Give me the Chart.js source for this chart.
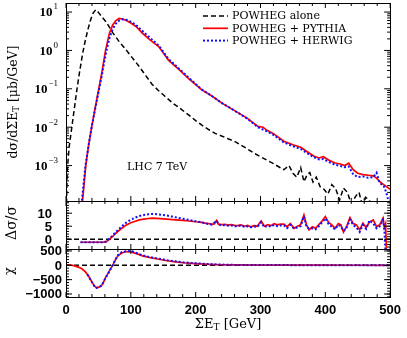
<!DOCTYPE html>
<html>
<head>
<meta charset="utf-8">
<script src="https://cdn.jsdelivr.net/npm/chart.js@4.4.1/dist/chart.umd.min.js"></script>
<style>
  html, body { margin: 0; padding: 0; background: #fff; }
  #wrap { width: 407px; height: 338px; }
</style>
</head>
<body>
<div id="wrap"><canvas id="chart" width="407" height="338"></canvas></div>
<script>
/* === DATA === */
// top panel: dσ/dΣE_T [μb/GeV]
const aloneX = [0.5, 2, 5, 9, 13, 17, 21, 26, 30, 34, 38, 42, 46, 50, 55, 62, 72, 82, 92, 102, 113, 123, 133, 143, 153, 165, 177, 189, 200, 210, 220, 230, 240, 250, 260, 270, 280, 290, 300, 310, 320, 330, 336, 344, 350, 356, 362, 367, 372, 376, 381, 386, 392, 398, 404, 410, 416, 422, 428, 434, 440, 447, 452, 458, 462, 468, 474];
const aloneY = [6.3e-5, 7.9e-4, 3.2e-3, 1.0e-2, 3.2e-2, 0.10, 0.28, 0.89, 1.9, 3.6, 6.3, 9.5, 11.5, 9.8, 7.6, 5.5, 2.9, 1.7, 1.07, 0.65, 0.38, 0.22, 0.13, 0.089, 0.063, 0.042, 0.030, 0.021, 0.0148, 0.0112, 0.0087, 0.0069, 0.0059, 0.0050, 0.0043, 0.0034, 0.0027, 0.0021, 0.0017, 0.00138, 0.00112, 8.9e-4, 7.8e-4, 1.0e-3, 6.3e-4, 5.0e-4, 8.9e-4, 3.8e-4, 5.8e-4, 6.6e-4, 3.7e-4, 5.0e-4, 2.8e-4, 2.4e-4, 1.8e-4, 3.2e-4, 2.5e-4, 1.26e-4, 2.6e-4, 2.0e-4, 1.0e-4, 1.6e-4, 2.0e-4, 7.9e-5, 1.5e-4, 1.26e-4, 6.3e-5];

const pythiaX = [24, 25.5, 30.5, 35, 40, 45, 50, 55, 61, 67, 72, 77, 82, 87, 93, 100, 108, 118, 130, 143, 158, 174, 190, 209, 225, 240, 260, 280, 296, 304, 310, 320, 336, 350, 362, 372, 382, 390, 397, 405, 415, 423, 430, 436, 443, 450, 458, 466, 474, 479, 484, 490, 496, 500];
const pythiaY = [6e-5, 1.2e-4, 1.0e-3, 3.5e-3, 1.1e-2, 3.2e-2, 8.9e-2, 0.25, 1.0, 2.8, 4.6, 6.0, 6.8, 6.6, 6.0, 5.2, 4.2, 2.8, 1.86, 1.26, 0.56, 0.32, 0.18, 0.095, 0.065, 0.043, 0.027, 0.017, 0.0105, 0.0100, 0.0083, 0.0068, 0.0043, 0.0035, 0.0030, 0.0023, 0.00178, 0.00158, 0.0017, 0.0014, 0.00117, 0.0011, 0.0010, 0.00115, 7.8e-4, 6.3e-4, 5.8e-4, 5.6e-4, 5.4e-4, 4.7e-4, 3.8e-4, 3.2e-4, 2.7e-4, 2.4e-4];

const herwigX = [23, 24.5, 30, 35, 40, 45, 50, 55, 61, 67, 72, 77, 82, 87, 93, 100, 108, 118, 130, 143, 158, 174, 190, 209, 225, 240, 260, 280, 296, 310, 320, 336, 350, 362, 372, 382, 390, 397, 405, 415, 423, 430, 436, 443, 450, 458, 466, 474, 479, 484, 490, 494, 498, 500];
const herwigY = [6e-5, 1.2e-4, 1.0e-3, 3.5e-3, 1.1e-2, 3.0e-2, 8.0e-2, 0.21, 0.76, 2.1, 3.6, 5.0, 6.0, 6.5, 6.3, 5.6, 4.6, 3.2, 2.1, 1.35, 0.60, 0.34, 0.19, 0.097, 0.065, 0.043, 0.027, 0.0165, 0.0100, 0.0078, 0.0063, 0.0040, 0.0032, 0.0027, 0.0021, 0.00165, 0.00145, 0.00148, 0.00125, 0.00105, 9.8e-4, 9.0e-4, 9.5e-4, 6.0e-4, 5.0e-4, 5.2e-4, 4.8e-4, 5.0e-4, 6.5e-4, 3.5e-4, 3.0e-4, 2.0e-4, 1.1e-4, 8e-5];

// middle panel: Δσ/σ
const ratioPythiaX = [22.4, 30, 40, 50, 58, 62, 67, 72, 77, 82, 87, 92.5, 100, 107, 113, 120, 127, 133, 140, 150, 160, 169, 180, 190, 200, 209, 215, 220, 225, 229, 232, 235, 240, 245, 250, 255, 260, 265, 270, 275, 280, 285, 290, 295, 301, 306, 311, 316, 321, 326, 331, 336, 341, 346, 352, 357, 362, 367, 371, 375, 380, 385, 390, 395, 400, 405, 410, 415, 420, 424, 428, 433, 438, 443, 448, 453, 458, 463, 468, 474, 479, 484, 489, 491, 493, 494.5];
const ratioPythiaY = [-1.15, -1.15, -1.15, -1.15, -1.1, -0.9, 0.0, 1.1, 2.3, 3.4, 4.4, 5.4, 6.3, 6.9, 7.4, 7.7, 7.95, 8.1, 8.0, 7.8, 7.6, 7.4, 7.2, 7.0, 6.7, 6.5, 6.2, 6.0, 5.8, 5.9, 7.2, 5.8, 5.6, 5.7, 5.4, 5.6, 5.3, 5.2, 5.5, 5.0, 5.3, 4.8, 5.2, 5.0, 7.0, 5.0, 5.6, 5.2, 6.0, 5.5, 5.8, 5.8, 4.8, 6.0, 4.2, 5.0, 5.6, 9.3, 5.5, 3.6, 4.8, 4.2, 5.6, 7.0, 8.7, 6.5, 5.5, 4.2, 6.0, 5.5, 2.7, 5.0, 8.3, 6.0, 5.5, 3.6, 6.2, 4.5, 6.6, 7.4, 4.8, 5.6, 8.1, 4.5, 6.0, -6];

const ratioHerwigX = [22.4, 30, 40, 50, 58, 62, 67, 72, 77, 82, 87, 92.5, 100, 107, 113, 120, 127, 133, 140, 150, 160, 169, 180, 190, 200, 209, 215, 220, 225, 230, 233, 236, 240, 245, 250, 255, 260, 265, 270, 275, 280, 285, 290, 295, 301, 306, 311, 316, 321, 326, 331, 336, 341, 346, 352, 357, 362, 367, 371, 375, 380, 385, 390, 395, 400, 405, 410, 415, 420, 424, 428, 433, 438, 443, 448, 453, 458, 463, 468, 474, 479, 484, 489, 491, 493];
const ratioHerwigY = [-1.15, -1.15, -1.15, -1.15, -1.1, -0.9, 0.2, 1.4, 2.8, 4.0, 5.2, 6.3, 7.5, 8.3, 8.9, 9.3, 9.6, 9.7, 9.6, 9.3, 8.9, 8.4, 7.9, 7.4, 6.9, 6.5, 6.1, 5.8, 5.6, 6.6, 6.9, 5.6, 5.3, 5.5, 5.2, 5.3, 5.0, 5.0, 5.3, 4.8, 5.0, 4.6, 4.9, 4.7, 6.5, 4.6, 5.2, 4.8, 5.5, 5.0, 5.3, 5.4, 4.3, 5.5, 4.0, 4.6, 5.0, 8.8, 4.8, 4.0, 4.2, 3.8, 5.0, 6.5, 8.0, 5.8, 4.8, 3.8, 5.5, 5.0, 3.2, 4.5, 7.5, 5.5, 4.5, 2.8, 5.5, 4.0, 7.2, 6.0, 4.2, 5.0, 7.4, 4.0, -6];

// bottom panel: χ
const chiPythiaX = [0, 10, 20, 25, 30, 35, 40, 44, 47, 51, 55, 58, 61, 64.5, 68, 72, 76, 80, 86, 92.5, 100, 110, 118, 130, 143, 156, 169, 181, 194, 207, 220, 240, 260, 300, 350, 400, 450, 500];
const chiPythiaY = [20, 0, -70, -130, -230, -380, -580, -730, -780, -760, -700, -580, -420, -300, -150, 0, 180, 330, 430, 480, 470, 400, 330, 265, 210, 160, 120, 90, 70, 50, 35, 20, 12, 8, 5, 3, 2, 0];
const chiHerwigX = [33, 35, 40, 44, 47, 51, 55, 58, 61, 64.5, 68, 72, 76, 80, 86, 95, 102, 110, 118, 130, 143, 156, 169, 181, 194, 207, 220, 240, 260, 300, 350, 400, 450, 500];
const chiHerwigY = [-320, -390, -590, -740, -790, -770, -700, -590, -440, -310, -160, 0, 190, 350, 460, 500, 490, 420, 350, 285, 230, 180, 140, 105, 80, 60, 42, 25, 15, 10, 6, 4, 2, 0];

const zeroX = [0, 500];
const zeroY = [0, 0];

// ticks
const xTicks = [0, 100, 200, 300, 400, 500];
const mainTicks = [1e-3, 1e-2, 1e-1, 1, 10];
const mainExps = ['\u22123', '\u22122', '\u22121', '0', '1'];
const midTicks = [0, 5, 10];
const midLabels = ['0', '5', '10'];
const chiTicks = [500, 0, -500, -1000];
const chiLabels = ['500', '0', '\u2212500', '\u22121000'];
const seriesLabels = ['POWHEG alone', 'POWHEG + PYTHIA', 'POWHEG + HERWIG'];

/* === HELPERS === */
const pts = (xs, ys) => xs.map((x, i) => ({ x: x, y: ys[i] }));

const SERIF = '"DejaVu Serif", serif';
const SANS = '"Liberation Sans", Arial, sans-serif';

const styleAlone = { borderColor: '#000', borderDash: [5, 3], borderWidth: 1.5, order: 2 };
const stylePythia = { borderColor: '#ff0000', borderDash: [], borderWidth: 1.7, order: 1 };
const styleHerwig = { borderColor: '#1010ff', borderDash: [2, 2], borderWidth: 2, order: 0 };

function line(label, data, style, axis) {
    return Object.assign({
        label: label,
        data: data,
        yAxisID: axis,
        pointRadius: 0,
        fill: false,
        tension: 0,
    }, style);
}

function drawRich(ctx, parts, cx, cy) {
    let w = 0;
    parts.forEach(p => { ctx.font = p[1]; w += ctx.measureText(p[0]).width; });
    let x = cx - w / 2;
    parts.forEach(p => {
        ctx.font = p[1];
        ctx.fillText(p[0], x, cy + p[2]);
        x += ctx.measureText(p[0]).width;
    });
}

/* === PLUGINS === */
// frame + inward tick marks for every panel, tick labels, titles, legend
const framePlugin = {
    id: 'frame',
    afterDatasetsDraw(chart) {
        const { ctx, scales } = chart;
        const xs = scales.x;
        ctx.save();
        ctx.strokeStyle = '#000';
        ctx.lineWidth = 1;
        const seg = (x1, y1, x2, y2) => {
            ctx.beginPath(); ctx.moveTo(x1, y1); ctx.lineTo(x2, y2); ctx.stroke();
        };
        const yTickSets = {
            yMain: { major: mainTicks, minor: [] },
            yMid: { major: midTicks, minor: [] },
            yChi: { major: chiTicks, minor: [] },
        };
        for (let k = -4; k <= 1; k++) {
            for (let m = 2; m <= 9; m++) yTickSets.yMain.minor.push(m * Math.pow(10, k));
        }
        for (let v = -3; v <= 14; v++) yTickSets.yMid.minor.push(v);
        for (let v = -1100; v <= 500; v += 100) yTickSets.yChi.minor.push(v);

        for (const id of ['yMain', 'yMid', 'yChi']) {
            const s = scales[id];
            ctx.strokeRect(Math.round(xs.left) + 0.5, Math.round(s.top) + 0.5,
                Math.round(xs.right - xs.left), Math.round(s.bottom - s.top));
            for (let v = 0; v <= 500; v += 20) {
                const px = xs.getPixelForValue(v);
                const len = v % 100 === 0 ? 5 : 3;
                seg(px, s.top, px, s.top + len);
                seg(px, s.bottom, px, s.bottom - len);
            }
            const set = yTickSets[id];
            const draw = (v, len) => {
                if (v < s.min || v > s.max) return;
                const py = s.getPixelForValue(v);
                seg(xs.left, py, xs.left + len, py);
                seg(xs.right, py, xs.right - len, py);
            };
            set.minor.forEach(v => draw(v, 3));
            set.major.forEach(v => draw(v, 6));
        }
        ctx.restore();
    },
    afterDraw(chart) {
        const { ctx, scales } = chart;
        const xs = scales.x, ym = scales.yMain, yd = scales.yMid, yc = scales.yChi;
        ctx.save();
        ctx.fillStyle = '#000';
        ctx.textBaseline = 'middle';

        // log labels with superscripts
        mainTicks.forEach((v, i) => {
            const py = ym.getPixelForValue(v);
            ctx.textAlign = 'right';
            ctx.font = '9px "Liberation Serif", serif';
            const ew = ctx.measureText(mainExps[i]).width;
            ctx.fillText(mainExps[i], 58, py - 5);
            ctx.font = 'bold 13px "Liberation Serif", serif';
            ctx.fillText('10', 58 - ew - 1, py + 1);
        });

        // linear panel labels
        ctx.textAlign = 'right';
        ctx.textBaseline = 'alphabetic';
        ctx.font = 'bold 13px ' + SANS;
        midTicks.forEach((v, i) => ctx.fillText(midLabels[i], 52, yd.getPixelForValue(v) + 4.5));
        for (let i = 0; i < chiTicks.length; i++) {
            const py = yc.getPixelForValue(chiTicks[i]);
            ctx.fillText(chiLabels[i], 62, py + 4.5);
        }
        ctx.textBaseline = 'middle';

        // axis titles
        ctx.textAlign = 'left';
        const big = '13px ' + SERIF, sub = '9px ' + SERIF;
        drawRich(ctx, [['\u03a3E', big, 0], ['T', sub, 3], [' [GeV]', big, 0]],
            (xs.left + xs.right) / 2, 325);

        const rot = (cx, cy, parts) => {
            ctx.save();
            ctx.translate(cx, cy);
            ctx.rotate(-Math.PI / 2);
            drawRich(ctx, parts, 0, 0);
            ctx.restore();
        };
        const ybig = '12.5px ' + SERIF, ysub = '8.5px ' + SERIF;
        rot(14, (ym.top + ym.bottom) / 2, [['d\u03c3/d\u03a3E', ybig, 0], ['T', ysub, 3], [' [\u03bcb/GeV]', ybig, 0]]);
        rot(12, (yd.top + yd.bottom) / 2 - 2, [['\u0394\u03c3/\u03c3', '14px ' + SERIF, 0]]);
        rot(10, (yc.top + yc.bottom) / 2 - 2, [['\u03c7', '13px ' + SERIF, 0]]);

        // in-plot annotation
        ctx.font = '11px ' + SERIF;
        ctx.textAlign = 'left';
        ctx.fillText('LHC 7 TeV', 127, 167);

        // legend
        const ds = chart.data.datasets;
        [0, 1, 2].forEach(i => {
            const y = 16 + i * 12.3;
            ctx.save();
            ctx.strokeStyle = ds[i].borderColor;
            ctx.lineWidth = ds[i].borderWidth;
            ctx.setLineDash(ds[i].borderDash);
            ctx.beginPath(); ctx.moveTo(203, y); ctx.lineTo(228, y); ctx.stroke();
            ctx.restore();
            ctx.font = '11px ' + SERIF;
            ctx.fillText(seriesLabels[i], 232, y + 0.5);
        });
        ctx.restore();
    }
};

/* === CHART === */
const fixWidth = s => { s.width = 66; };
const hiddenY = (min, max, weight, ticks) => ({
    type: 'linear', position: 'left', stack: 'panels', stackWeight: weight,
    min: min, max: max,
    grid: { display: false, drawTicks: false },
    border: { display: false },
    afterBuildTicks: s => { s.ticks = ticks.map(v => ({ value: v })); },
    afterFit: fixWidth,
    ticks: { display: false },
});

const yMainScale = hiddenY(1.2e-4, 17.2, 4.12, mainTicks);
yMainScale.type = 'logarithmic';

new Chart(document.getElementById('chart'), {
    type: 'line',
    data: {
        datasets: [
            line(seriesLabels[0], pts(aloneX, aloneY), styleAlone, 'yMain'),
            line(seriesLabels[1], pts(pythiaX, pythiaY), stylePythia, 'yMain'),
            line(seriesLabels[2], pts(herwigX, herwigY), styleHerwig, 'yMain'),
            line('zero mid', pts(zeroX, zeroY), styleAlone, 'yMid'),
            line('pythia mid', pts(ratioPythiaX, ratioPythiaY), stylePythia, 'yMid'),
            line('herwig mid', pts(ratioHerwigX, ratioHerwigY), styleHerwig, 'yMid'),
            line('zero chi', pts(zeroX, zeroY), styleAlone, 'yChi'),
            line('pythia chi', pts(chiPythiaX, chiPythiaY), stylePythia, 'yChi'),
            line('herwig chi', pts(chiHerwigX, chiHerwigY), styleHerwig, 'yChi'),
        ]
    },
    options: {
        responsive: false,
        animation: false,
        devicePixelRatio: 1,
        layout: { padding: { top: 3, right: 13, left: 0, bottom: 0 } },
        plugins: { legend: { display: false }, tooltip: { enabled: false } },
        scales: {
            x: {
                type: 'linear', min: 0, max: 500,
                grid: { display: false, drawTicks: false },
                border: { display: false },
                afterBuildTicks: s => { s.ticks = xTicks.map(v => ({ value: v })); },
                afterFit: s => { s.height = 41; },
                ticks: { font: { family: SANS, size: 13, weight: 'bold' }, color: '#000', padding: 6, maxRotation: 0, autoSkip: false },
            },
            // stacked panels: first listed sits at the bottom
            yChi: hiddenY(-1105, 570, 1, chiTicks),
            yMid: hiddenY(-3.73, 14.7, 1, midTicks),
            yMain: yMainScale,
        }
    },
    plugins: [framePlugin]
});
</script>
</body>
</html>
